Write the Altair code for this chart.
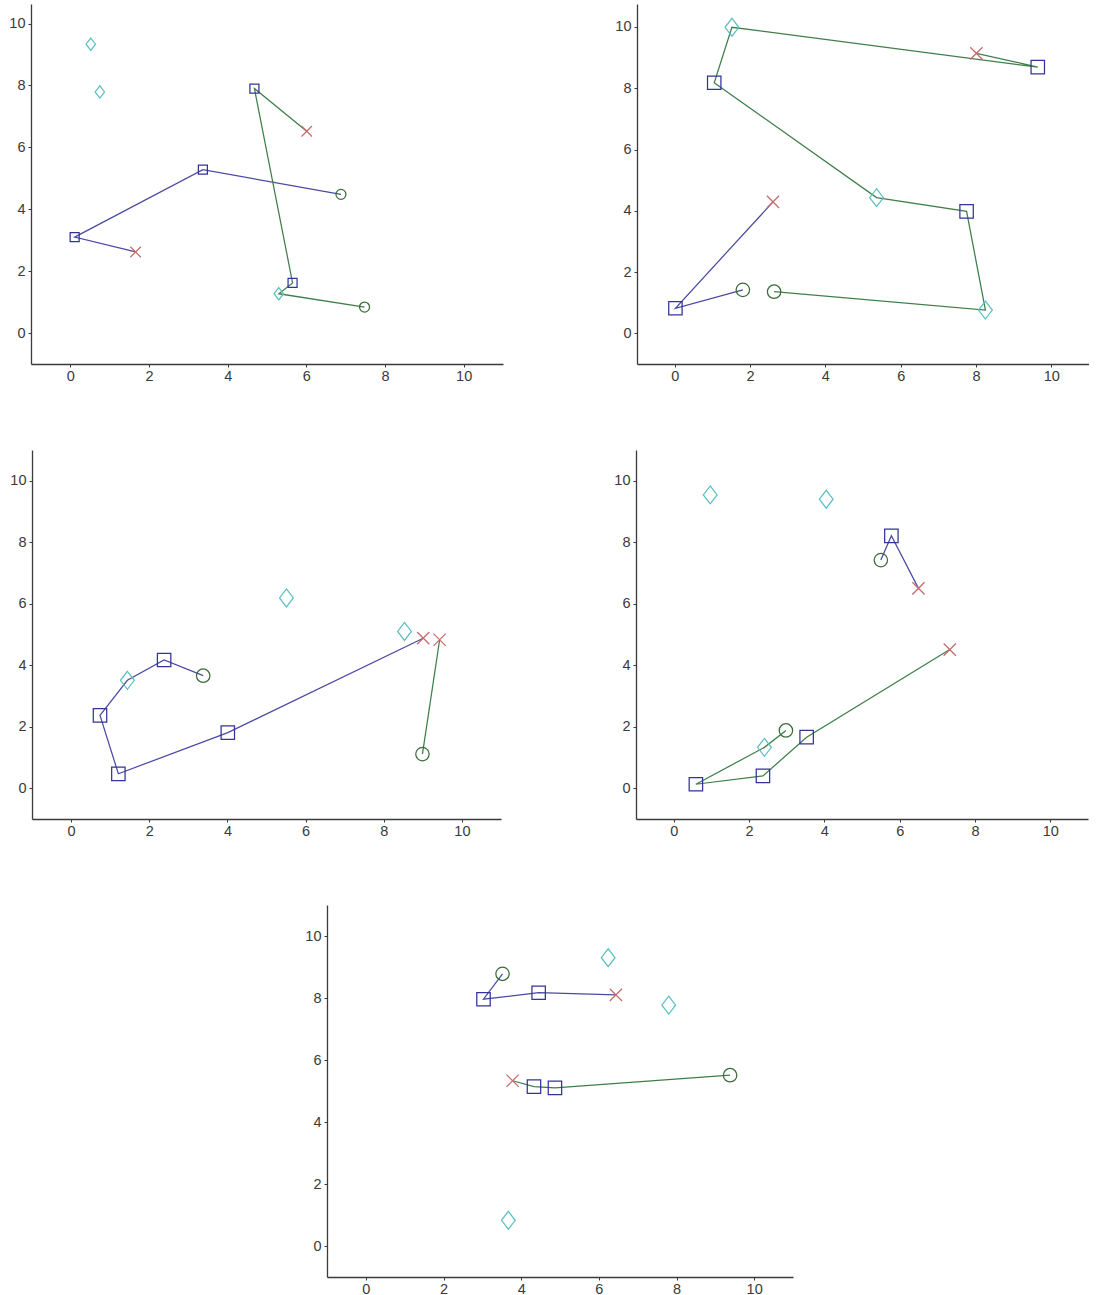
import altair as alt
import pandas as pd

X_TICKS = [0, 2, 4, 6, 8, 10]
Y_TICKS = [0, 2, 4, 6, 8, 10]

# ---- Panel 1 (top left)
P1_SQUARES = [(4.68, 7.90), (3.37, 5.28), (0.11, 3.10), (5.65, 1.62)]
P1_CIRCLES = [(6.88, 4.48), (7.48, 0.84)]
P1_DIAMONDS = [(0.52, 9.33), (0.75, 7.79), (5.30, 1.27)]
P1_CROSSES = [(6.01, 6.52), (1.66, 2.62)]
P1_BLUE = [(1.66, 2.62), (0.11, 3.10), (3.37, 5.28), (6.88, 4.48)]
P1_GREEN = [(6.01, 6.52), (4.68, 7.90), (5.65, 1.62), (5.30, 1.27), (7.48, 0.84)]

# ---- Panel 2 (top right)
P2_SQUARES = [(9.64, 8.69), (1.05, 8.18), (7.75, 3.98), (0.02, 0.82)]
P2_CIRCLES = [(1.81, 1.42), (2.64, 1.36)]
P2_DIAMONDS = [(1.52, 9.99), (5.36, 4.43), (8.25, 0.76)]
P2_CROSSES = [(8.01, 9.14), (2.61, 4.29)]
P2_BLUE = [(2.61, 4.29), (0.02, 0.82), (1.81, 1.42)]
P2_GREEN = [(8.01, 9.14), (9.64, 8.69), (1.52, 9.99), (1.05, 8.18), (5.36, 4.43),
            (7.75, 3.98), (8.25, 0.76), (2.64, 1.36)]

# ---- Panel 3 (middle left)
P3_SQUARES = [(2.38, 4.17), (0.74, 2.37), (1.21, 0.47), (4.01, 1.81)]
P3_CIRCLES = [(3.38, 3.66), (8.99, 1.11)]
P3_DIAMONDS = [(5.51, 6.19), (8.53, 5.10), (1.44, 3.51)]
P3_CROSSES = [(9.01, 4.88), (9.43, 4.83)]
P3_BLUE = [(3.38, 3.66), (2.38, 4.17), (1.44, 3.51), (0.74, 2.37), (1.21, 0.47),
           (4.01, 1.81), (9.01, 4.88)]
P3_GREEN = [(9.43, 4.83), (8.99, 1.11)]

# ---- Panel 4 (middle right)
P4_SQUARES = [(5.78, 8.21), (3.53, 1.66), (2.37, 0.40), (0.59, 0.13)]
P4_CIRCLES = [(5.50, 7.42), (2.98, 1.88)]
P4_DIAMONDS = [(0.97, 9.54), (4.05, 9.40), (2.41, 1.33)]
P4_CROSSES = [(6.50, 6.50), (7.33, 4.51)]
P4_BLUE = [(5.50, 7.42), (5.78, 8.21), (6.50, 6.50)]
P4_GREEN = [(7.33, 4.51), (3.53, 1.66), (2.37, 0.40), (0.59, 0.13), (2.41, 1.33), (2.98, 1.88)]

# ---- Panel 5 (bottom)
P5_SQUARES = [(3.03, 7.96), (4.45, 8.17), (4.33, 5.14), (4.87, 5.10)]
P5_CIRCLES = [(3.52, 8.78), (9.38, 5.51)]
P5_DIAMONDS = [(6.24, 9.30), (7.80, 7.77), (3.67, 0.83)]
P5_CROSSES = [(6.44, 8.10), (3.78, 5.33)]
P5_BLUE = [(3.52, 8.78), (3.03, 7.96), (4.45, 8.17), (6.44, 8.10)]
P5_GREEN = [(3.78, 5.33), (4.33, 5.14), (4.87, 5.10), (9.38, 5.51)]

# ---- styles
KINDS = ["square", "circle", "diamond", "cross"]
SHAPES = ["square", "circle", "M0,-1L0.77,0L0,1L-0.77,0Z", "M-1,-1L1,1M1,-1L-1,1"]
KIND_COLORS = ["#33339a", "#3a6a3a", "#5cc0c0", "#c56b6b"]
ROUTES = ["blue", "green"]
ROUTE_COLORS = ["#4a4aa3", "#3e7e4a"]
SMALL = {"square": 81, "circle": 100, "diamond": 150, "cross": 110}
LARGE = {"square": 180, "circle": 180, "diamond": 320, "cross": 150}


def panel(sq, ci, di, cr, blue, green, w, h, ymax, sizes):
    rows = []
    for kind, pts in (("square", sq), ("circle", ci), ("diamond", di), ("cross", cr)):
        for x, y in pts:
            rows.append({"x": x, "y": y, "kind": kind, "sz": sizes[kind]})
    pts_df = pd.DataFrame(rows)
    lrows = []
    for route, pts in (("blue", blue), ("green", green)):
        for i, (x, y) in enumerate(pts):
            lrows.append({"x": x, "y": y, "route": route, "i": i})
    line_df = pd.DataFrame(lrows)

    xs = alt.Scale(domain=[-1, 11], nice=False, zero=False)
    ys = alt.Scale(domain=[-1, ymax], nice=False, zero=False)
    xax = alt.Axis(values=X_TICKS, title=None, labelPadding=2)
    yax = alt.Axis(values=Y_TICKS, title=None, labelPadding=3)

    lines = alt.Chart(line_df).mark_line(strokeWidth=1.25).encode(
        x=alt.X("x:Q", scale=xs, axis=xax),
        y=alt.Y("y:Q", scale=ys, axis=yax),
        color=alt.Color("route:N", scale=alt.Scale(domain=ROUTES, range=ROUTE_COLORS), legend=None),
        detail="route:N",
        order="i:Q",
    )
    points = alt.Chart(pts_df).mark_point(filled=False, strokeWidth=1.25, opacity=1).encode(
        x=alt.X("x:Q", scale=xs, axis=xax),
        y=alt.Y("y:Q", scale=ys, axis=yax),
        shape=alt.Shape("kind:N", scale=alt.Scale(domain=KINDS, range=SHAPES), legend=None),
        stroke=alt.Stroke("kind:N", scale=alt.Scale(domain=KINDS, range=KIND_COLORS), legend=None),
        size=alt.Size("sz:Q", scale=None),
    )
    return alt.layer(lines, points).properties(width=w, height=h)


p1 = panel(P1_SQUARES, P1_CIRCLES, P1_DIAMONDS, P1_CROSSES, P1_BLUE, P1_GREEN, 472, 360, 10.63, SMALL)
p2 = panel(P2_SQUARES, P2_CIRCLES, P2_DIAMONDS, P2_CROSSES, P2_BLUE, P2_GREEN, 452, 360, 10.75, LARGE)
p3 = panel(P3_SQUARES, P3_CIRCLES, P3_DIAMONDS, P3_CROSSES, P3_BLUE, P3_GREEN, 469, 369, 11, LARGE)
p4 = panel(P4_SQUARES, P4_CIRCLES, P4_DIAMONDS, P4_CROSSES, P4_BLUE, P4_GREEN, 452, 369, 11, LARGE)
p5 = panel(P5_SQUARES, P5_CIRCLES, P5_DIAMONDS, P5_CROSSES, P5_BLUE, P5_GREEN, 466, 372, 11, LARGE)

row1 = alt.hconcat(p1, p2, spacing=111)
row2 = alt.hconcat(p3, p4, spacing=112)

chart = (
    alt.vconcat(row1, row2, p5, spacing=67, center=True)
    .properties(padding={"left": 8, "top": 4, "right": 0, "bottom": 0}, background="white")
    .configure_axis(
        labelFont="Liberation Sans",
        labelFontSize=14.5,
        labelColor="#3a3a3a",
        domainColor="#3a3a3a",
        tickColor="#3a3a3a",
        tickSize=3,
        domainWidth=1.3,
        tickWidth=1,
        grid=False,
    )
    .configure_view(stroke=None)
)

chart.save("out.html", embed_options={"renderer": "svg", "actions": False})
